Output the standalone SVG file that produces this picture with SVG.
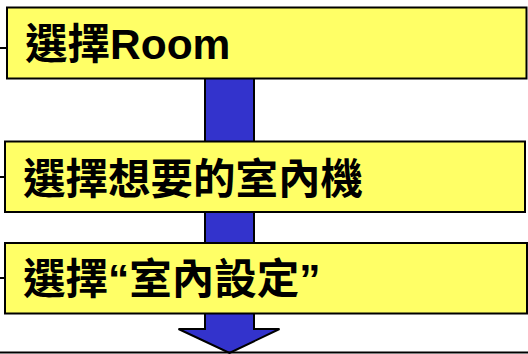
<svg xmlns="http://www.w3.org/2000/svg" width="528" height="354" viewBox="0 0 528 354">
<style>
.box{fill:#FFFF66;stroke:#000;stroke-width:2}
.lbl{font-family:"Liberation Sans","Noto Sans CJK TC",sans-serif;font-weight:bold;font-size:42.5px;fill:#000}
.ln{stroke:#000;stroke-width:2;fill:none}
.arrow{fill:#3333CC;stroke:#000;stroke-width:2;stroke-linejoin:miter}
</style>
<rect width="528" height="354" fill="#fff"/>
<g id="connectors">
<path class="arrow" d="M205,70 L254,70 L254,329 L279.5,329 L229.5,353 L178.5,329 L205,329 Z"/>
<line class="ln" x1="0" y1="48" x2="7" y2="48"/>
<line class="ln" x1="0" y1="177" x2="5" y2="177"/>
<line class="ln" x1="0" y1="278" x2="5" y2="278"/>
<line class="ln" x1="0" y1="352.5" x2="528" y2="352.5"/>
</g>
<g id="node1">
<rect class="box" x="7" y="7.5" width="519.5" height="71"/>
<text class="lbl" x="25" y="59">選擇Room</text>
</g>
<g id="node2">
<rect class="box" x="5" y="141.5" width="520" height="70.5"/>
<text class="lbl" x="23" y="194">選擇想要的室內機</text>
</g>
<g id="node3">
<rect class="box" x="5" y="243" width="522" height="70.5"/>
<text class="lbl" x="23" y="294">選擇“室內設定”</text>
</g>
</svg>
